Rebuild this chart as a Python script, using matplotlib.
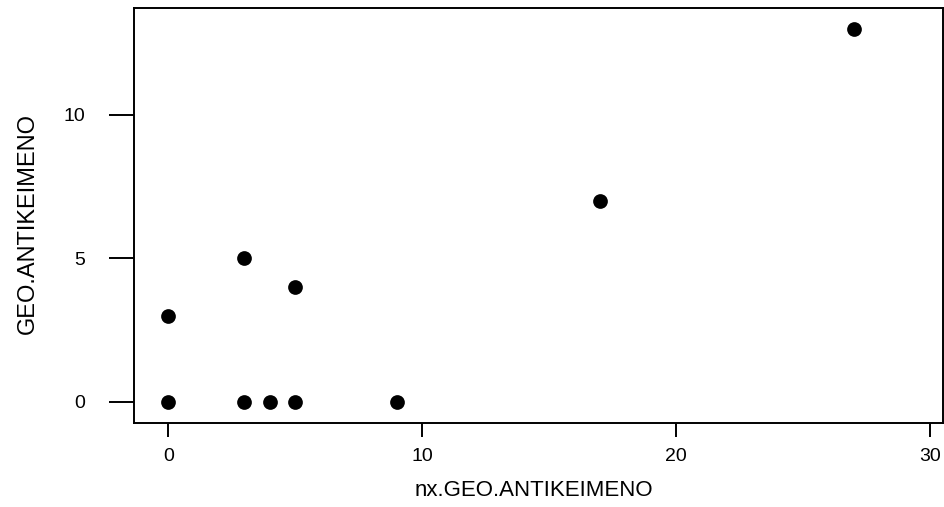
import matplotlib
matplotlib.use('Agg')
import matplotlib.pyplot as plt

plt.rcParams['font.family'] = ['Liberation Sans', 'DejaVu Sans']

# nx.GEO.ANTIKEIMENO vs GEO.ANTIKEIMENO
nx_geo = [0, 0, 3, 3, 4, 5, 5, 9, 17, 27]
geo = [0, 3, 0, 5, 0, 0, 4, 0, 7, 13]

fig = plt.figure(figsize=(9.44, 5.07), dpi=100)
ax = fig.add_axes([134 / 944, 1 - 422.7 / 507, (942.7 - 134) / 944, (422.7 - 8.3) / 507])

ax.plot(nx_geo, geo, 'o', color='black', markersize=10.6, markeredgewidth=0)

ax.set_xlim(-1.35, 30.5)
ax.set_ylim(-0.73, 13.72)
ax.set_xticks([0, 10, 20, 30])
ax.set_yticks([0, 5, 10])

for s in ax.spines.values():
    s.set_linewidth(1.4)
ax.tick_params(axis='x', length=10, width=1.4, pad=8, labelsize=14)
ax.tick_params(axis='y', length=18, width=1.4, pad=17, labelsize=14)

ax.set_xlabel('nx.GEO.ANTIKEIMENO', fontsize=16, labelpad=11)
ax.set_ylabel('GEO.ANTIKEIMENO', fontsize=17, labelpad=18)
ax.xaxis.label.set_x(0.494)
ax.yaxis.label.set_y(0.48)

fig.savefig('out.png', dpi=100)
